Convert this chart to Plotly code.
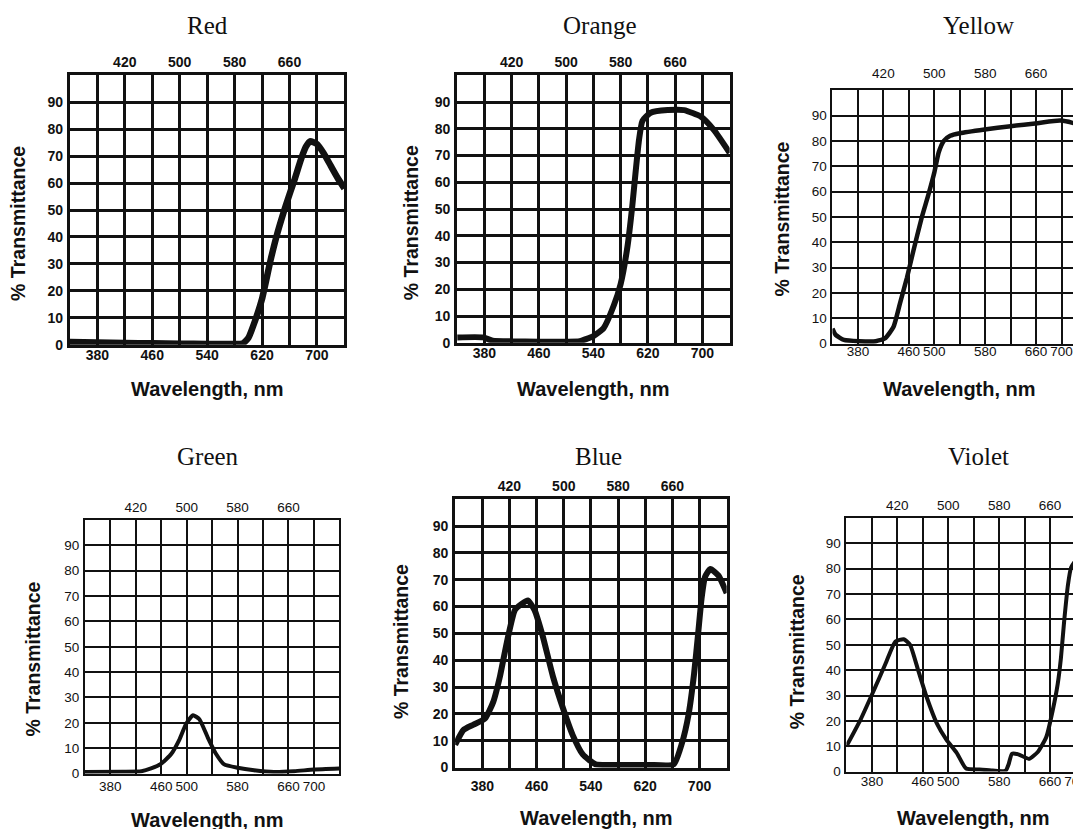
import plotly.graph_objects as go

W, H = 1081, 829

# ---------------- data ----------------
red_wl = [340, 380, 420, 460, 500, 540, 580, 592, 600, 610, 620, 633, 643, 655, 667, 677, 684, 690, 700, 710, 720, 730, 740]
red_T = [1.0, 0.8, 0.6, 0.5, 0.4, 0.3, 0.3, 0.5, 2.5, 9, 17, 32, 42, 52, 61, 69, 73.5, 75.5, 74.5, 71, 66.5, 62, 58]

orange_wl = [340, 378, 392, 420, 460, 500, 520, 540, 555, 570, 580, 590, 597, 602, 607, 612, 624, 649, 673, 698, 717, 740]
orange_T = [2, 2, 0.8, 0.5, 0.4, 0.4, 0.6, 2.5, 5.5, 14, 22, 36, 51, 64, 76, 83, 86, 87, 87, 84.5, 79.5, 71]

yellow_wl = [340, 345, 358, 382, 408, 423, 436, 446, 457, 467, 480, 491, 500, 507, 515, 525, 540, 579, 620, 662, 698, 719, 730, 740]
yellow_T = [6, 3.5, 1.5, 1, 1, 2.2, 6.7, 15.8, 26, 36.5, 49.5, 59, 67.5, 75.5, 80, 82, 83, 84.5, 85.8, 87, 88, 87, 86, 82]

green_wl = [340, 400, 429, 444, 460, 476, 489, 499, 510, 520, 533, 546, 559, 580, 606, 637, 669, 700, 740]
green_T = [0.6, 0.7, 0.9, 2, 3.9, 7.8, 13.6, 19.5, 23, 21.4, 14.3, 7.8, 3.6, 2.3, 1.3, 0.6, 0.9, 1.6, 2]

blue_wl = [340, 352, 367, 384, 396, 406, 416, 428, 438, 447, 457, 469, 484, 499, 513, 528, 547, 577, 625, 662, 674, 684, 692, 698, 703, 708, 716, 728, 740]
blue_T = [8.5, 14, 16, 18.3, 24.4, 34, 46.5, 58.7, 61, 62.3, 58.7, 49, 34, 22, 12.2, 4.9, 1.2, 1, 1, 1.2, 9, 20, 35, 50, 63, 71, 74, 71.5, 65]

violet_wl = [340, 362, 383, 401, 417, 430, 440, 453, 466, 482, 497, 513, 528, 549, 570, 590, 595, 600, 610, 627, 641, 654, 664, 672, 677, 682, 688, 693, 704, 716]
violet_T = [10, 20.4, 32, 42.3, 51.3, 52.2, 50, 39.7, 29.4, 19, 12.6, 7.5, 1.2, 0.8, 0.4, 0.3, 3, 7, 6.8, 5, 7.8, 13.6, 24, 34.6, 44.7, 59, 73.5, 80.5, 84.4, 86.4]

grid_wl = [340, 380, 420, 460, 500, 540, 580, 620, 660, 700, 740]
bottom_labels_a = ["", "380", "", "460", "", "540", "", "620", "", "700", ""]
bottom_labels_b = ["", "380", "", "460", "500", "", "580", "", "660", "700", ""]
top_ticks = [420, 500, 580, 660]
top_labels = ["420", "500", "580", "660"]
y_grid = [0, 10, 20, 30, 40, 50, 60, 70, 80, 90, 100]
y_labels = ["0", "10", "20", "30", "40", "50", "60", "70", "80", "90", ""]

titles = ["Red", "Orange", "Yellow", "Green", "Blue", "Violet"]
series = [(red_wl, red_T), (orange_wl, orange_T), (yellow_wl, yellow_T),
          (green_wl, green_T), (blue_wl, blue_T), (violet_wl, violet_T)]

# ---------------- layout settings (pixels) ----------------
panels = [
    dict(box=(62, 68, 337, 340), xmax=740, heavy=True, right=True, bottom=bottom_labels_a,
         title=(200, 18), ytitle=(10, 217), xtitle=(200, 385), lw=6.5, bso=-5, tso=5),
    dict(box=(450, 68, 723, 338), xmax=740, heavy=True, right=True, bottom=bottom_labels_a,
         title=(593, 18), ytitle=(404, 217), xtitle=(587, 385), lw=6, bso=-5, tso=5),
    dict(box=(826, 83, 1081, 339), xmax=740, heavy=False, right=True, bottom=bottom_labels_b,
         title=(972, 18), ytitle=(775, 213), xtitle=(953, 385), lw=4.5, bso=-6, tso=8),
    dict(box=(77, 517, 332, 773), xmax=740, heavy=False, right=True, bottom=bottom_labels_b,
         title=(200, 453), ytitle=(25, 657), xtitle=(200, 820), lw=4, bso=-1, tso=4),
    dict(box=(448, 496, 720, 767), xmax=740, heavy=True, right=True, bottom=bottom_labels_a,
         title=(592, 453), ytitle=(394, 640), xtitle=(590, 818), lw=6, bso=4, tso=4),
    dict(box=(840, 515, 1081, 771), xmax=718, heavy=False, right=False, bottom=bottom_labels_b,
         title=(972, 453), ytitle=(790, 650), xtitle=(967, 818), lw=4, bso=-4, tso=4),
]

INK = "#111111"
fig = go.Figure()
annotations = []

for i, (p, (wl, T), name) in enumerate(zip(panels, series, titles), start=1):
    x0, y0, x1, y1 = p["box"]
    xd = [x0 / W, x1 / W]
    yd = [1 - y1 / H, 1 - y0 / H]
    heavy = p["heavy"]
    gw = 2.6 if heavy else 1.5
    bw = 3 if heavy else 2
    tfont = dict(family="Liberation Sans", size=14, color=INK, weight="bold") if heavy else \
        dict(family="Liberation Sans", size=13.5, color=INK)
    xa, ya, xt = f"x{i}", f"y{i}", f"x{i + 6}"

    fig.add_trace(go.Scatter(x=wl, y=T, mode="lines",
                             line=dict(color=INK, width=p["lw"], shape="spline", smoothing=0.5),
                             xaxis=xa, yaxis=ya, hoverinfo="skip", showlegend=False))
    fig.add_trace(go.Scatter(x=wl, y=T, mode="lines", line=dict(width=0), opacity=0,
                             xaxis=xt, yaxis=ya, hoverinfo="skip", showlegend=False))

    fig.layout[f"xaxis{i}"] = dict(
        domain=xd, range=[340, p["xmax"]], anchor=ya, tickmode="array",
        tickvals=grid_wl, ticktext=p["bottom"], showgrid=True, gridcolor=INK, gridwidth=gw,
        showline=True, linecolor=INK, linewidth=bw, mirror=True, ticks="", zeroline=False,
        tickfont=tfont, fixedrange=True, tickangle=0, ticklabelstandoff=p["bso"])
    fig.layout[f"yaxis{i}"] = dict(
        domain=yd, range=[0, 100], anchor=xa, tickmode="array",
        tickvals=y_grid, ticktext=y_labels, showgrid=True, gridcolor=INK, gridwidth=gw,
        showline=True, linecolor=INK, linewidth=bw, mirror=p["right"], ticks="",
        zeroline=False, tickfont=tfont, fixedrange=True, ticklabelstandoff=1)
    fig.layout[f"xaxis{i + 6}"] = dict(
        overlaying=xa, side="top", anchor=ya, range=[340, p["xmax"]], tickmode="array",
        tickvals=top_ticks, ticktext=top_labels, showgrid=False, showline=False,
        ticks="", zeroline=False, tickfont=tfont, fixedrange=True, tickangle=0,
        ticklabelstandoff=p["tso"])

    tx, ty = p["title"]
    annotations.append(dict(text=name, x=tx / W, y=1 - ty / H, xref="paper", yref="paper",
                            showarrow=False, xanchor="center", yanchor="middle",
                            font=dict(family="Liberation Serif", size=25, color=INK)))
    ax_, ay_ = p["ytitle"]
    annotations.append(dict(text="% Transmittance", x=ax_ / W, y=1 - ay_ / H, xref="paper",
                            yref="paper", showarrow=False, textangle=-90, xanchor="center",
                            yanchor="middle",
                            font=dict(family="Liberation Sans", size=19.5, color=INK, weight="bold")))
    bx, by = p["xtitle"]
    annotations.append(dict(text="Wavelength, nm", x=bx / W, y=1 - by / H, xref="paper",
                            yref="paper", showarrow=False, xanchor="center", yanchor="middle",
                            font=dict(family="Liberation Sans", size=20, color=INK, weight="bold")))

fig.update_layout(width=W, height=H, margin=dict(l=0, r=0, t=0, b=0),
                  paper_bgcolor="white", plot_bgcolor="white",
                  annotations=annotations, showlegend=False)

fig.write_html("out.html", config={"displayModeBar": False})
